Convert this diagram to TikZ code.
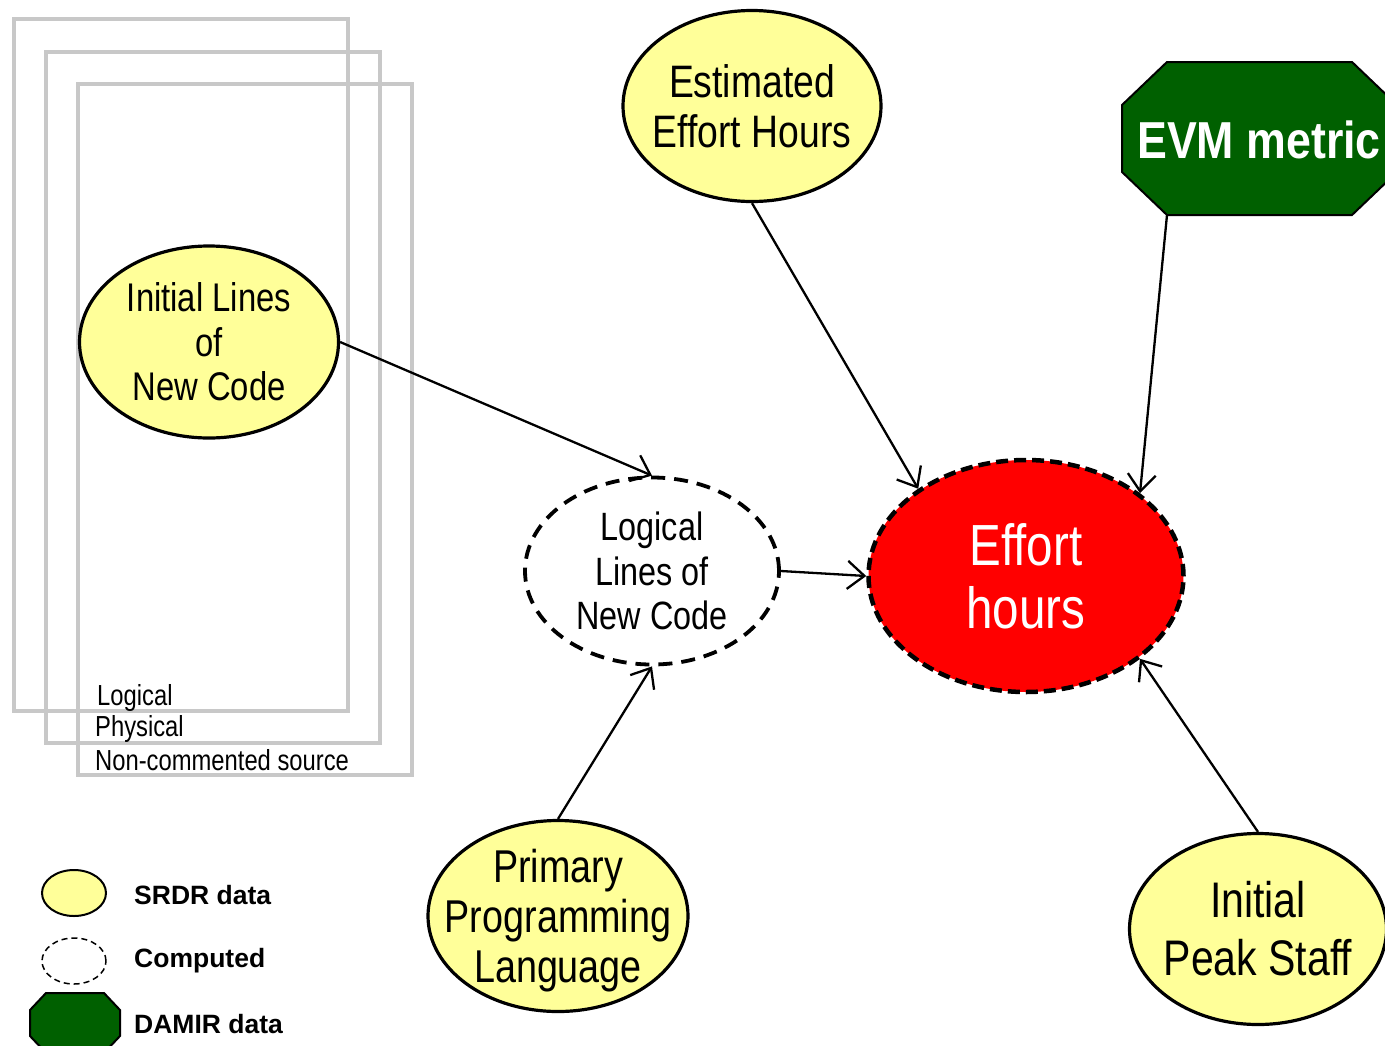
\documentclass[tikz,border=0pt]{standalone}
\usepackage{fontspec}
\setmainfont{Liberation Sans}
\newfontfamily\narrowsf[FakeStretch=0.82]{Liberation Sans}
\newfontfamily\evmfont[FakeStretch=0.86]{Liberation Sans}
\usetikzlibrary{shapes.geometric, arrows.meta, calc}

\definecolor{srdr}{RGB}{255,255,153}
\definecolor{damir}{RGB}{0,96,0}
\definecolor{boxgray}{RGB}{200,200,200}

\tikzset{
  datum/.style={ellipse, draw=black, line width=3.2pt, fill=srdr, inner sep=0pt},
  computed/.style={ellipse, draw=black, line width=3.8pt, dash pattern=on 14pt off 9pt, fill=white, inner sep=0pt},
  damirfill/.style={draw=black, line width=2pt, fill=damir},
  link/.style={line width=2.3pt, -{Straight Barb[length=17pt,width=28pt]}},
  srcbox/.style={draw=boxgray, line width=4pt},
  caption/.style={font=\narrowsf\fontsize{29}{31}\selectfont, anchor=west, inner sep=0pt},
  legendtext/.style={font=\bfseries\fontsize{26.5}{30}\selectfont, anchor=west, inner sep=0pt},
  inner/.style={align=center, inner sep=0pt},
}

\begin{document}
\begin{tikzpicture}[x=1pt, y=-1pt]
\useasboundingbox (0,0) rectangle (1385,1045);
\clip (0,0) rectangle (1385,1045);

% stacked source-line counting frames
\draw[srcbox] (14,19) rectangle (348,711);
\draw[srcbox] (46,52) rectangle (380,743);
\draw[srcbox] (78,84) rectangle (412,775);
\node[caption] (cLog) at (97,698) {Logical};
\node[caption] (cPhy) at (95,729) {Physical};
\node[caption] (cNcs) at (95,760) {Non-commented source};

% data nodes
\node[datum, minimum width=259pt, minimum height=192pt,
  label={[inner, font=\narrowsf\fontsize{40}{44.5}\selectfont]center:{Initial Lines\\of\\New Code}}]
  (init) at (209,342) {};
\node[datum, minimum width=258pt, minimum height=191pt,
  label={[inner, font=\narrowsf\fontsize{45.5}{50}\selectfont]center:{Estimated\\Effort Hours}}]
  (est) at (752,106) {};
\node[computed, minimum width=254pt, minimum height=187pt,
  label={[inner, font=\narrowsf\fontsize{39.5}{44.5}\selectfont]center:{Logical\\Lines of\\New Code}}]
  (logic) at (652,571) {};
\node[datum, minimum width=260pt, minimum height=191pt,
  label={[inner, yshift=-5pt, font=\narrowsf\fontsize{46}{50}\selectfont]center:{Primary\\Programming\\Language}}]
  (prim) at (558,916) {};
\node[datum, minimum width=257pt, minimum height=191pt,
  label={[inner, font=\narrowsf\fontsize{50}{58}\selectfont]center:{Initial\\Peak Staff}}]
  (peak) at (1258,929) {};
\node[ellipse, draw=black, line width=4.5pt, dash pattern=on 12pt off 6pt, fill=red, inner sep=0pt,
  minimum width=315pt, minimum height=232pt,
  label={[inner, text=white, font=\narrowsf\fontsize{58}{63}\selectfont]center:{Effort\\hours}}]
  (eff) at (1026,576) {};

% EVM octagon (DAMIR data)
\coordinate (evmc) at (1259.5,138.5);
\draw[damirfill] ($(evmc)+(-92.5,-76.5)$) -- ($(evmc)+(92.5,-76.5)$) -- ($(evmc)+(137.5,-33.5)$)
  -- ($(evmc)+(137.5,33.5)$) -- ($(evmc)+(92.5,76.5)$) -- ($(evmc)+(-92.5,76.5)$)
  -- ($(evmc)+(-137.5,33.5)$) -- ($(evmc)+(-137.5,-33.5)$) -- cycle;
\node[text=white, inner sep=0pt, font=\evmfont\bfseries\fontsize{52}{60}\selectfont]
  (evm) at (1259,140) {EVM metric};
\coordinate (evmfoot) at ($(evmc)+(-92.5,76.5)$);

% dependencies
\draw[link] (init.east) -- (logic.north);
\draw[link] (logic.east) -- (eff.west);
\draw[link] (prim.north) -- (logic.south);
\draw[link] (est.south) -- (eff.141.7);
\draw[link] (evmfoot) -- (eff.36.5);
\draw[link] (peak.north) -- (eff.-36.5);

% legend
\node[datum, line width=2pt, minimum width=64pt, minimum height=46pt] (lgSrdr) at (74,893) {};
\node[computed, line width=1.5pt, dash pattern=on 6pt off 4pt, minimum width=64pt, minimum height=46pt] (lgComp) at (74,961) {};
\coordinate (lgDamir) at (75,1023);
\draw[damirfill] ($(lgDamir)+(-29,-30)$) -- ($(lgDamir)+(29,-30)$) -- ($(lgDamir)+(45,-13)$)
  -- ($(lgDamir)+(45,13)$) -- ($(lgDamir)+(29,30)$) -- ($(lgDamir)+(-29,30)$)
  -- ($(lgDamir)+(-45,13)$) -- ($(lgDamir)+(-45,-13)$) -- cycle;
\node[legendtext] (tSrdr) at (134,895) {SRDR data};
\node[legendtext] (tComp) at (134,961) {Computed};
\node[legendtext] (tDamir) at (134,1024) {DAMIR data};
\end{tikzpicture}
\end{document}
